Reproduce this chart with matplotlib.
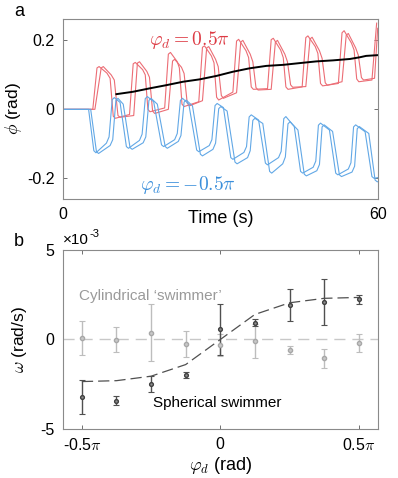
import matplotlib
matplotlib.use('Agg')
import matplotlib.pyplot as plt

plt.rcParams['font.family'] = ['Liberation Sans', 'DejaVu Sans']
plt.rcParams['mathtext.fontset'] = 'cm'

# --- panel a: phase traces (vertices) ---
red_a_t = [0, 5.7, 6.5, 6.9, 8.4, 9.0, 9.6, 10.0,
           12.7, 13.4, 13.8, 15.2, 15.7, 16.2, 16.6,
           19.4, 20.1, 20.5, 21.8, 22.2, 22.7, 23.1,
           25.9, 26.6, 27.0, 28.3, 28.8, 29.3, 29.7,
           32.4, 33.1, 33.5, 34.9, 35.4, 35.9, 36.3,
           39.0, 39.7, 40.1, 41.5, 42.0, 42.5, 42.9,
           45.6, 46.3, 46.7, 48.1, 48.6, 49.1, 49.5,
           52.5, 53.2, 53.6, 55.0, 55.5, 56.0, 56.4,
           58.9, 59.8]
red_a_phi = [0, 0, 0.120, 0.124, 0.105, 0.090, -0.020, -0.026,
             -0.015, 0.132, 0.136, 0.115, 0.100, 0.000, -0.007,
             0.004, 0.160, 0.165, 0.138, 0.120, 0.015, 0.008,
             0.022, 0.180, 0.184, 0.155, 0.135, 0.035, 0.027,
             0.050, 0.198, 0.203, 0.170, 0.150, 0.065, 0.058,
             0.060, 0.202, 0.206, 0.172, 0.150, 0.065, 0.058,
             0.065, 0.208, 0.213, 0.182, 0.162, 0.075, 0.068,
             0.075, 0.222, 0.228, 0.192, 0.172, 0.088, 0.080,
             0.085, 0.250]
red_b_t = [0, 6.1, 7.3, 7.7, 9.2, 9.8, 10.5, 10.9,
           13.5, 14.2, 14.6, 16.0, 16.5, 17.1, 17.5,
           20.1, 20.9, 21.3, 22.6, 23.1, 23.7, 24.1,
           26.6, 27.4, 27.8, 29.1, 29.6, 30.2, 30.6,
           33.1, 33.9, 34.3, 35.7, 36.2, 36.8, 37.2,
           39.7, 40.5, 40.9, 42.3, 42.8, 43.4, 43.8,
           46.3, 47.1, 47.5, 48.9, 49.4, 50.0, 50.4,
           53.2, 54.0, 54.4, 55.8, 56.3, 56.9, 57.3,
           59.4, 60]
red_b_phi = [0, 0, 0.120, 0.124, 0.100, 0.085, -0.018, -0.023,
             -0.018, 0.134, 0.138, 0.110, 0.093, -0.005, -0.012,
             0.000, 0.140, 0.145, 0.122, 0.104, 0.018, 0.010,
             0.025, 0.178, 0.182, 0.145, 0.124, 0.040, 0.032,
             0.048, 0.195, 0.200, 0.160, 0.138, 0.063, 0.056,
             0.058, 0.195, 0.200, 0.160, 0.138, 0.071, 0.064,
             0.066, 0.204, 0.209, 0.170, 0.148, 0.077, 0.070,
             0.080, 0.215, 0.220, 0.178, 0.157, 0.092, 0.085,
             0.090, 0.235]

blue_a_t = [0, 4.9, 5.9, 6.3, 8.3, 8.8, 9.4, 9.8, 10.9,
            12.1, 12.5, 14.6, 15.1, 15.7, 16.1, 17.3,
            18.8, 19.2, 21.3, 21.8, 22.4, 22.8, 24.0,
            25.5, 25.9, 27.9, 28.4, 29.0, 29.4, 30.6,
            32.0, 32.4, 34.5, 35.0, 35.5, 35.9, 37.3,
            38.6, 39.0, 41.1, 41.6, 42.1, 42.5, 44.1,
            45.3, 45.7, 47.7, 48.2, 48.7, 49.1, 50.8,
            52.0, 52.4, 54.4, 54.9, 55.4, 55.8, 57.6,
            58.9, 59.3, 60]
blue_a_phi = [0, 0, -0.120, -0.126, -0.098, -0.080, 0.028, 0.034, 0.020,
              -0.108, -0.113, -0.090, -0.072, 0.031, 0.037, 0.022,
              -0.103, -0.108, -0.088, -0.070, 0.026, 0.032, 0.015,
              -0.118, -0.123, -0.105, -0.088, 0.011, 0.017, 0.005,
              -0.140, -0.145, -0.125, -0.108, -0.022, -0.016, -0.031,
              -0.156, -0.161, -0.140, -0.122, -0.027, -0.021, -0.050,
              -0.180, -0.185, -0.168, -0.150, -0.046, -0.040, -0.060,
              -0.185, -0.190, -0.173, -0.155, -0.051, -0.045, -0.065,
              -0.195, -0.200, -0.198]
blue_b_t = [0, 5.3, 6.4, 6.8, 9.0, 9.5, 10.1, 10.5, 11.5,
            12.8, 13.2, 15.3, 15.8, 16.4, 16.8, 18.0,
            19.5, 19.9, 22.0, 22.5, 23.1, 23.5, 24.7,
            26.2, 26.6, 28.6, 29.1, 29.7, 30.1, 31.3,
            32.8, 33.2, 35.2, 35.7, 36.2, 36.6, 38.1,
            39.4, 39.8, 41.9, 42.4, 42.9, 43.3, 44.8,
            46.0, 46.4, 48.4, 48.9, 49.4, 49.8, 51.4,
            52.7, 53.1, 55.1, 55.6, 56.1, 56.5, 58.3,
            59.5, 59.9, 60]
blue_b_phi = [0, 0, -0.123, -0.128, -0.105, -0.088, 0.026, 0.032, 0.015,
              -0.111, -0.116, -0.097, -0.080, 0.026, 0.032, 0.015,
              -0.108, -0.113, -0.093, -0.076, 0.021, 0.027, 0.010,
              -0.130, -0.135, -0.116, -0.098, 0.002, 0.008, -0.005,
              -0.153, -0.158, -0.140, -0.120, -0.032, -0.026, -0.041,
              -0.180, -0.185, -0.158, -0.138, -0.042, -0.036, -0.060,
              -0.188, -0.193, -0.178, -0.160, -0.051, -0.045, -0.064,
              -0.190, -0.195, -0.182, -0.165, -0.056, -0.050, -0.070,
              -0.205, -0.210, -0.210]

mean_t = [10.2, 13.4, 16.6, 19.7, 22.9, 26.1, 29.3, 32.4, 35.6, 38.8, 42.0, 45.1, 48.3, 51.5, 54.7, 56.6, 57.8, 59.9]
mean_phi = [0.044, 0.051, 0.061, 0.070, 0.080, 0.087, 0.097, 0.109, 0.119, 0.126, 0.129, 0.134, 0.139, 0.142, 0.146, 0.151, 0.155, 0.157]

# --- panel b: rotation rate vs phase (x in units of pi, y in 1e-3 rad/s) ---
phi_d = [-0.5, -0.375, -0.25, -0.125, 0, 0.125, 0.25, 0.375, 0.5]
sph_w = [-3.2, -3.41, -2.5, -1.98, 0.56, 0.94, 1.94, 2.09, 2.26]
sph_err = [0.95, 0.26, 0.46, 0.18, 1.45, 0.19, 0.89, 1.3, 0.25]
cyl_w = [0.07, -0.02, 0.39, -0.24, -0.3, -0.09, -0.57, -1.04, -0.18]
cyl_err = [0.95, 0.7, 1.57, 0.71, 0.6, 0.95, 0.23, 0.53, 0.5]
fit_w = [-2.35, -2.3, -2.05, -1.4, 0, 1.4, 2.05, 2.3, 2.35]

red_line = '#ec6d75'
blue_line = '#62a8e6'
frame = '#8a8a8a'

fig = plt.figure(figsize=(3.98, 4.78), dpi=100)
ax1 = fig.add_axes([0.158, 0.5837, 0.791, 0.3766])
ax2 = fig.add_axes([0.158, 0.1025, 0.791, 0.3745])

ax1.plot(red_a_t, red_a_phi, color=red_line, lw=0.8)
ax1.plot(red_b_t, red_b_phi, color=red_line, lw=0.8)
ax1.plot(blue_a_t, blue_a_phi, color=blue_line, lw=0.8)
ax1.plot(blue_b_t, blue_b_phi, color=blue_line, lw=0.8)
ax1.plot(mean_t, mean_phi, color='black', lw=1.4)

ax1.set_xlim(0, 60)
ax1.set_ylim(-0.26, 0.262)
ax1.set_xticks([0, 60])
ax1.set_yticks([-0.2, 0, 0.2])
ax1.set_yticklabels(['-0.2', '0', '0.2'])
ax1.set_xlabel('Time (s)', fontsize=13, labelpad=-9)
ax1.set_ylabel(r'$\phi$ (rad)', fontsize=12.5, labelpad=2)
ax1.text(0.403, 0.885, r'$\varphi_d = 0.5\pi$', transform=ax1.transAxes, color='#dd3b44',
         fontsize=14, ha='center', va='center')
ax1.text(0.397, 0.08, r'$\varphi_d = -0.5\pi$', transform=ax1.transAxes, color='#3b8fdb',
         fontsize=14, ha='center', va='center')

ax2.axhline(0, color='#c8c8c8', lw=1.0, ls=(0, (8, 5)))
ax2.errorbar(phi_d, cyl_w, yerr=cyl_err, fmt='o', ms=3, color='#bdbdbd', mfc='#c8c8c8', mec='#a8a8a8',
             elinewidth=1.0, capsize=2, capthick=0.8)
ax2.plot(phi_d, fit_w, color='#505050', lw=0.9, ls=(0, (9, 4)))
ax2.errorbar(phi_d, sph_w, yerr=sph_err, fmt='o', ms=2.7, color='#505050', mfc='#8c8c8c', mec='#404040',
             elinewidth=1.0, capsize=2, capthick=0.8)

ax2.set_xlim(-0.5686, 0.5686)
ax2.set_ylim(-5, 5)
ax2.set_xticks([-0.5, 0, 0.5])
ax2.set_xticklabels([r'-0.5$\pi$', '0', r'0.5$\pi$'])
ax2.set_yticks([-5, 0, 5])
ax2.set_yticklabels(['-5', '0', '5'])
ax2.set_xlabel(r'$\varphi_d$ (rad)', fontsize=13, labelpad=1)
ax2.set_ylabel(r'$\omega$ (rad/s)', fontsize=12.5, labelpad=8)
ax2.text(0.05, 0.72, 'Cylindrical \u2018swimmer\u2019', transform=ax2.transAxes, color='#9a9a9a', fontsize=11)
ax2.text(0.285, 0.125, 'Spherical swimmer', transform=ax2.transAxes, color='black', fontsize=11)
ax2.text(0.0, 1.015, '\u00d710', transform=ax2.transAxes, fontsize=11, va='bottom')
ax2.text(0.085, 1.06, '-3', transform=ax2.transAxes, fontsize=8, va='bottom')

for ax in (ax1, ax2):
    for s in ax.spines.values():
        s.set_color(frame)
        s.set_linewidth(0.8)
    ax.tick_params(direction='in', length=3, width=0.7, color='#707070', top=True, right=True,
                   labelsize=11.5, pad=6)

fig.text(0.035, 0.975, 'a', fontsize=13, va='center')
fig.text(0.035, 0.495, 'b', fontsize=13, va='center')

fig.savefig('out.png', dpi=100)
